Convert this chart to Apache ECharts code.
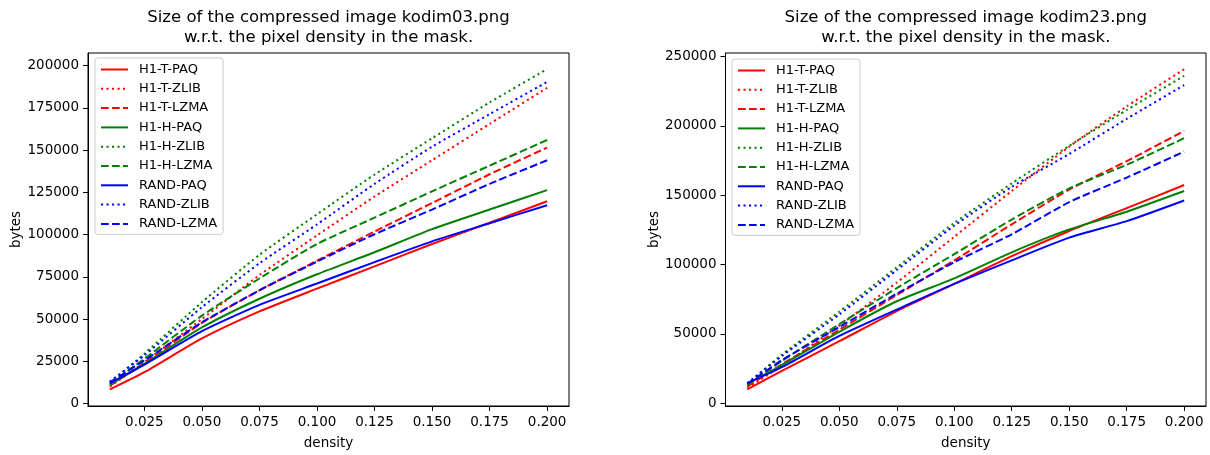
<!DOCTYPE html>
<html>
<head>
<meta charset="utf-8">
<script src="https://cdn.jsdelivr.net/npm/echarts@6/dist/echarts.min.js"></script>
<style>
  html, body { margin: 0; padding: 0; background: #fff; }
  #chart { width: 1210px; height: 455px; }
</style>
</head>
<body>
<div id="chart"></div>
<script>
// ---- data ----
const densities = [0.01, 0.025, 0.05, 0.075, 0.1, 0.125, 0.15, 0.175, 0.2];
const seriesNames = ['H1-T-PAQ','H1-T-ZLIB','H1-T-LZMA','H1-H-PAQ','H1-H-ZLIB','H1-H-LZMA','RAND-PAQ','RAND-ZLIB','RAND-LZMA'];
const xTicks = [0.025, 0.05, 0.075, 0.1, 0.125, 0.15, 0.175, 0.2];
const yTicksLeft = [0, 25000, 50000, 75000, 100000, 125000, 150000, 175000, 200000];
const yTicksRight = [0, 50000, 100000, 150000, 200000, 250000];

// kodim03
const k03_H1T_PAQ  = [8300, 18500, 38500, 54500, 68000, 81200, 94400, 107000, 119700];
const k03_H1T_ZLIB = [10000, 24500, 50000, 76000, 99500, 122500, 144000, 165500, 186900];
const k03_H1T_LZMA = [10500, 24000, 47700, 67000, 84500, 101800, 118700, 135700, 151500];
const k03_H1H_PAQ  = [11000, 23500, 45000, 62000, 76500, 89500, 103200, 114800, 126300];
const k03_H1H_ZLIB = [12500, 29500, 60000, 88000, 112000, 135500, 157000, 178200, 198000];
const k03_H1H_LZMA = [11500, 26500, 52000, 74000, 94400, 110000, 125600, 140800, 156000];
const k03_RAND_PAQ = [12000, 23000, 42800, 58400, 71000, 83700, 96000, 106700, 117400];
const k03_RAND_ZLIB= [13000, 28500, 57000, 83000, 106000, 130000, 152000, 171300, 190400];
const k03_RAND_LZMA= [12500, 25500, 48000, 67000, 84000, 100200, 114800, 130000, 144000];

// kodim23
const k23_H1T_PAQ  = [10000, 23300, 44700, 66400, 86000, 106000, 124200, 140700, 157300];
const k23_H1T_ZLIB = [11000, 27000, 56000, 87000, 120000, 153000, 185000, 214000, 240800];
const k23_H1T_LZMA = [12000, 28000, 53000, 78000, 103000, 129000, 154000, 174500, 196300];
const k23_H1H_PAQ  = [14000, 27500, 51500, 73500, 90000, 108800, 125300, 138100, 153000];
const k23_H1H_ZLIB = [14000, 35000, 66000, 98000, 130000, 158500, 185600, 211400, 236000];
const k23_H1H_LZMA = [13000, 30500, 57000, 83000, 107500, 132400, 154900, 171900, 191100];
const k23_RAND_PAQ = [14500, 26000, 48500, 67500, 86000, 103000, 119400, 131300, 146200];
const k23_RAND_ZLIB= [14500, 34000, 64000, 96000, 128000, 156000, 179700, 205000, 229400];
const k23_RAND_LZMA= [14000, 31000, 55000, 79000, 101700, 121800, 145000, 162700, 181400];

const left03 = [k03_H1T_PAQ,k03_H1T_ZLIB,k03_H1T_LZMA,k03_H1H_PAQ,k03_H1H_ZLIB,k03_H1H_LZMA,k03_RAND_PAQ,k03_RAND_ZLIB,k03_RAND_LZMA];
const right23 = [k23_H1T_PAQ,k23_H1T_ZLIB,k23_H1T_LZMA,k23_H1H_PAQ,k23_H1H_ZLIB,k23_H1H_LZMA,k23_RAND_PAQ,k23_RAND_ZLIB,k23_RAND_LZMA];

// ---- styles ----
const colors = ['#ff0000','#ff0000','#ff0000','#008000','#008000','#008000','#0000ff','#0000ff','#0000ff'];
const dashes = ['solid',[2.1,3.4],[7.7,3.3],'solid',[2.1,3.4],[7.7,3.3],'solid',[2.1,3.4],[7.7,3.3]];
const FONT = 'DejaVu Sans';
const TXT = '#000';

function mkSeries(arrs, idx) {
  return arrs.map((vals, i) => ({
    name: seriesNames[i],
    type: 'line',
    xAxisIndex: idx, yAxisIndex: idx,
    data: densities.map((d, j) => [d, vals[j]]),
    symbol: 'none', showSymbol: false,
    smooth: 0.2,
    lineStyle: { color: colors[i], width: 2, type: dashes[i], cap: 'butt' },
    itemStyle: { color: colors[i] },
    emphasis: { disabled: true },
    animation: false
  }));
}

function xAxis(gi) {
  return {
    type: 'value', gridIndex: gi, min: 0.0005, max: 0.2095,
    name: 'density', nameLocation: 'middle', nameGap: 30,
    nameTextStyle: { fontFamily: FONT, fontSize: 13.5, color: TXT },
    axisLine: { show: true, onZero: false, lineStyle: { color: '#000', width: 1 } },
    axisTick: { show: true, length: 5, customValues: xTicks, lineStyle: { color: '#000' } },
    axisLabel: { customValues: xTicks, margin: 9, fontFamily: FONT, fontSize: 13.5, color: TXT,
                 formatter: v => v.toFixed(3) },
    splitLine: { show: false }
  };
}
function yAxis(gi, min, max, ticks) {
  return {
    type: 'value', gridIndex: gi, min: min, max: max,
    name: 'bytes', nameLocation: 'middle', nameGap: 64, nameRotate: 90,
    nameTextStyle: { fontFamily: FONT, fontSize: 13.5, color: TXT },
    axisLine: { show: true, onZero: false, lineStyle: { color: '#000', width: 1 } },
    axisTick: { show: true, length: 5, customValues: ticks, lineStyle: { color: '#000' } },
    axisLabel: { customValues: ticks, margin: 9, fontFamily: FONT, fontSize: 13.5, color: TXT,
                 formatter: v => String(Math.round(v)) },
    splitLine: { show: false }
  };
}
function legend(left, top) {
  return {
    left: left, top: top, orient: 'vertical',
    data: seriesNames,
    itemWidth: 27, itemHeight: 14, itemGap: 6.3,
    padding: [5, 6, 4, 5],
    backgroundColor: 'rgba(255,255,255,0.8)',
    borderColor: '#cccccc', borderWidth: 1, borderRadius: 3,
    itemStyle: { opacity: 0, borderWidth: 0 },
    textStyle: { fontFamily: FONT, fontSize: 13, color: TXT, padding: [0, 0, 0, 6] },
    selectedMode: false
  };
}

const chart = echarts.init(document.getElementById('chart'), null, { renderer: 'canvas' });
chart.setOption({
  animation: false,
  backgroundColor: '#fff',
  title: [
    { text: 'Size of the compressed image kodim03.png\nw.r.t. the pixel density in the mask.',
      left: 328.5, top: 8, padding: 0, textAlign: 'center',
      textStyle: { fontFamily: FONT, fontSize: 16.5, fontWeight: 'normal', color: TXT, lineHeight: 19.5 } },
    { text: 'Size of the compressed image kodim23.png\nw.r.t. the pixel density in the mask.',
      left: 965.8, top: 8, padding: 0, textAlign: 'center',
      textStyle: { fontFamily: FONT, fontSize: 16.5, fontWeight: 'normal', color: TXT, lineHeight: 19.5 } }
  ],
  grid: [
    { left: 88, top: 53, width: 481, height: 358, show: true, borderColor: '#000', borderWidth: 1, backgroundColor: 'transparent' },
    { left: 725.5, top: 53, width: 480.5, height: 358, show: true, borderColor: '#000', borderWidth: 1, backgroundColor: 'transparent' }
  ],
  xAxis: [xAxis(0), xAxis(1)],
  yAxis: [yAxis(0, -1500, 207500, yTicksLeft), yAxis(1, -2000, 252500, yTicksRight)],
  legend: [legend(95, 58), legend(732, 59)],
  series: mkSeries(left03, 0).concat(mkSeries(right23, 1))
});
</script>
</body>
</html>
